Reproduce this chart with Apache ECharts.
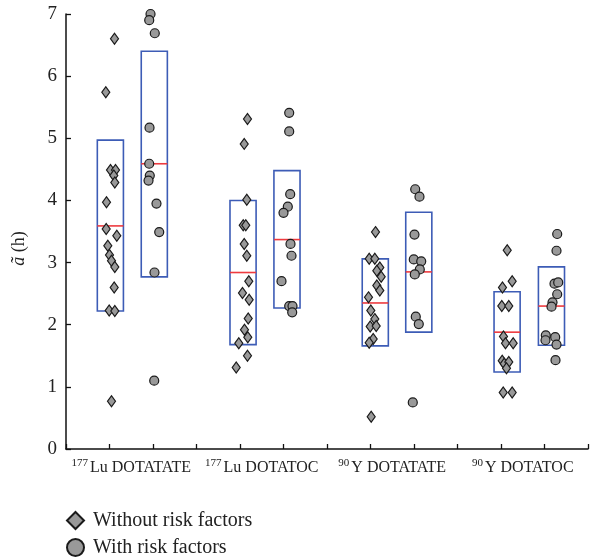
<!DOCTYPE html>
<html>
<head>
<meta charset="utf-8">
<style>
  html, body { margin: 0; padding: 0; background: #fff; }
  #chart { width: 592px; height: 558px; }
</style>
<script src="https://cdn.jsdelivr.net/npm/echarts@6/dist/echarts.min.js"></script>
</head>
<body>
<div id="chart"></div>
<script>
// Group labels (isotope written as superscript)
const isotopes = ['177', '177', '90', '90'];
const compounds = ['Lu DOTATATE', 'Lu DOTATOC', 'Y DOTATATE', 'Y DOTATOC'];
const groupLabelPos = [1.5, 4.5, 7.5, 10.5];

// Box positions on the x scale: [without, with] for each group
const boxPosWithout = [1.02, 4.07, 7.11, 10.14];
const boxPosWith = [2.03, 5.08, 8.11, 11.16];

// Box statistics (lower edge, upper edge, median) in hours
const boxLowWithout = [2.22, 1.68, 1.66, 1.24];
const boxHighWithout = [4.97, 4.00, 3.06, 2.53];
const boxMedWithout = [3.59, 2.84, 2.35, 1.88];
const boxLowWith = [2.77, 2.27, 1.88, 1.67];
const boxHighWith = [6.40, 4.48, 3.81, 2.93];
const boxMedWith = [4.59, 3.37, 2.85, 2.30];

// Individual values, patients without risk factors
const withoutValues = [
  [6.60, 5.74, 4.49, 4.49, 4.40, 4.29, 3.97, 3.54, 3.43, 3.27, 3.12, 3.03, 2.93, 2.60, 2.23, 2.22, 0.77],
  [5.31, 4.91, 4.01, 3.60, 3.60, 3.30, 3.11, 2.70, 2.51, 2.40, 2.10, 1.92, 1.80, 1.70, 1.50, 1.31],
  [3.49, 3.06, 3.06, 2.92, 2.87, 2.77, 2.63, 2.55, 2.44, 2.23, 2.09, 1.97, 1.98, 1.77, 1.71, 0.52],
  [3.20, 2.70, 2.60, 2.30, 2.30, 1.81, 1.70, 1.70, 1.42, 1.37, 1.40, 1.30, 0.91, 0.91]
];
// Jittered x positions of those values
const withoutJitter = [
  [1.115, 0.915, 1.023, 1.138, 1.099, 1.122, 0.931, 0.924, 1.168, 0.961, 1.000, 1.046, 1.122, 1.108, 0.993, 1.122, 1.046],
  [4.172, 4.097, 4.156, 4.074, 4.133, 4.097, 4.156, 4.202, 4.057, 4.211, 4.189, 4.103, 4.179, 3.972, 4.172, 3.913],
  [7.115, 6.970, 7.099, 7.214, 7.145, 7.246, 7.145, 7.214, 6.954, 7.007, 7.099, 6.993, 7.131, 7.062, 6.970, 7.016],
  [10.143, 10.257, 10.034, 10.018, 10.179, 10.057, 10.103, 10.280, 10.028, 10.074, 10.179, 10.126, 10.051, 10.257]
];

// Individual values, patients with risk factors
const withValues = [
  [7.00, 6.90, 6.69, 5.17, 4.59, 4.40, 4.32, 3.95, 3.49, 2.84, 1.10],
  [5.41, 5.11, 4.10, 3.90, 3.80, 3.30, 3.11, 2.70, 2.30, 2.30, 2.20],
  [4.18, 4.06, 3.45, 3.05, 3.02, 2.89, 2.81, 2.13, 2.01, 0.75],
  [3.46, 3.19, 2.66, 2.68, 2.49, 2.36, 2.29, 1.83, 1.75, 1.80, 1.68, 1.43]
];
const withJitter = [
  [1.943, 1.913, 2.041, 1.920, 1.913, 1.926, 1.897, 2.080, 2.143, 2.034, 2.028],
  [5.131, 5.131, 5.154, 5.099, 5.000, 5.161, 5.184, 4.954, 5.131, 5.207, 5.200],
  [8.028, 8.126, 8.011, 7.995, 8.166, 8.133, 8.018, 8.041, 8.110, 7.972],
  [11.292, 11.276, 11.230, 11.315, 11.292, 11.184, 11.161, 11.030, 11.023, 11.246, 11.276, 11.253]
];

const seriesNames = ['Without risk factors', 'With risk factors'];
const yTicks = [0, 1, 2, 3, 4, 5, 6, 7];

const SERIF = '"Liberation Serif", "DejaVu Serif", serif';

function pairs(xs, ys) {
  const out = [];
  xs.forEach((g, i) => g.forEach((x, j) => out.push([x, ys[i][j]])));
  return out;
}

const boxData = [];
for (let i = 0; i < compounds.length; i++) {
  boxData.push([boxPosWithout[i], boxLowWithout[i], boxHighWithout[i], boxMedWithout[i]]);
  boxData.push([boxPosWith[i], boxLowWith[i], boxHighWith[i], boxMedWith[i]]);
}

function renderBox(params, api) {
  const x = api.value(0);
  const lo = api.value(1), hi = api.value(2), med = api.value(3);
  const half = api.size([0.6, 0])[0] / 2;
  const top = api.coord([x, hi]);
  const bot = api.coord([x, lo]);
  const mid = api.coord([x, med]);
  return {
    type: 'group',
    children: [
      {
        type: 'rect',
        shape: { x: top[0] - half, y: top[1], width: half * 2, height: bot[1] - top[1] },
        style: { fill: 'none', stroke: '#3d5cb6', lineWidth: 1.6 }
      },
      {
        type: 'line',
        shape: { x1: mid[0] - half, y1: mid[1], x2: mid[0] + half, y2: mid[1] },
        style: { stroke: '#ee3a3f', lineWidth: 1.6 }
      }
    ]
  };
}

const chart = echarts.init(document.getElementById('chart'), null, { renderer: 'canvas' });

chart.setOption({
  animation: false,
  backgroundColor: '#fff',
  grid: { left: 66, right: 4, top: 14, bottom: 109, containLabel: false },
  xAxis: [
    {
      type: 'value', min: 0, max: 12, interval: 1,
      axisLine: { show: true, lineStyle: { color: '#111', width: 1.5 } },
      axisTick: { show: true, inside: true, length: 5, lineStyle: { color: '#111', width: 1.3 } },
      axisLabel: { show: false },
      splitLine: { show: false }
    },
    {
      type: 'value', min: 0, max: 12, interval: 1.5, position: 'bottom',
      axisLine: { show: false }, axisTick: { show: false }, splitLine: { show: false },
      axisLabel: {
        show: true, margin: 9,
        formatter: function (v) {
          const i = groupLabelPos.indexOf(v);
          return i < 0 ? '' : '{sup|' + isotopes[i] + '}{main|' + compounds[i] + '}';
        },
        rich: {
          sup: { fontFamily: SERIF, fontSize: 11, color: '#222', padding: [0, 2, 7, 0], verticalAlign: 'bottom' },
          main: { fontFamily: SERIF, fontSize: 16, color: '#222', verticalAlign: 'bottom' }
        }
      }
    }
  ],
  yAxis: {
    type: 'value', min: yTicks[0], max: yTicks[yTicks.length - 1], interval: 1,
    name: '{it|ã} (h)',
    nameLocation: 'middle', nameRotate: 90, nameGap: 38,
    nameTextStyle: {
      fontFamily: SERIF, fontSize: 18, color: '#222', padding: [0, 34, 0, 0],
      rich: { it: { fontFamily: SERIF, fontSize: 18, fontStyle: 'italic', color: '#222' } }
    },
    axisLine: { show: true, lineStyle: { color: '#111', width: 1.5 } },
    axisTick: { show: true, inside: true, length: 5, lineStyle: { color: '#111', width: 1.3 } },
    axisLabel: { fontFamily: SERIF, fontSize: 19, color: '#222', margin: 9 },
    splitLine: { show: false }
  },
  legend: {
    orient: 'vertical', left: 66, top: 510, itemGap: 6, padding: 0,
    height: 48,
    itemWidth: 17, itemHeight: 17,
    textStyle: { fontFamily: SERIF, fontSize: 20, lineHeight: 21, color: '#222', padding: [0, 0, 0, 4] },
    data: [
      { name: seriesNames[0], icon: 'diamond' },
      { name: seriesNames[1], icon: 'circle' }
    ]
  },
  series: [
    {
      type: 'custom', name: 'boxes', renderItem: renderBox, data: boxData,
      encode: { x: 0, y: [1, 2, 3] }, z: 1, silent: true
    },
    {
      type: 'scatter', name: seriesNames[0], symbol: 'diamond', symbolSize: [8, 11],
      data: pairs(withoutJitter, withoutValues), clip: false, z: 3,
      itemStyle: { color: '#999', borderColor: '#1a1a1a', borderWidth: 1.2, opacity: 1 }
    },
    {
      type: 'scatter', name: seriesNames[1], symbol: 'circle', symbolSize: 9,
      data: pairs(withJitter, withValues), clip: false, z: 3,
      itemStyle: { color: '#999', borderColor: '#1a1a1a', borderWidth: 1.2, opacity: 1 }
    }
  ]
});
</script>
</body>
</html>
